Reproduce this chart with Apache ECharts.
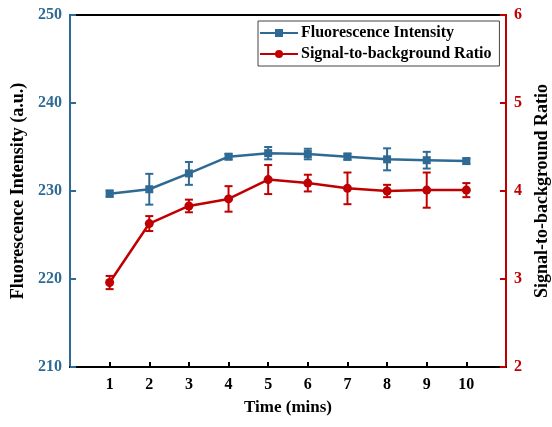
<!DOCTYPE html>
<html>
<head>
<meta charset="utf-8">
<script src="https://cdn.jsdelivr.net/npm/echarts@6/dist/echarts.min.js"></script>
<style>
  html, body { margin: 0; padding: 0; background: #fff; }
  #chart { width: 552px; height: 427px; }
</style>
</head>
<body>
<div id="chart"></div>
<script>
// 数据
const times = [1, 2, 3, 4, 5, 6, 7, 8, 9, 10];
const fluoValues = [229.7, 230.2, 232.0, 233.9, 234.3, 234.2, 233.9, 233.6, 233.5, 233.4];
const fluoErrors = [0.35, 1.75, 1.3, 0.3, 0.7, 0.6, 0.35, 1.25, 0.95, 0.3];
const sbrValues = [2.96, 3.63, 3.83, 3.91, 4.13, 4.09, 4.03, 4.0, 4.01, 4.01];
const sbrErrors = [0.075, 0.085, 0.072, 0.145, 0.165, 0.095, 0.18, 0.07, 0.2, 0.08];

const blue = "#2e6a94";
const red = "#c00000";
const font = "'Liberation Serif', 'Times New Roman', serif";

const chart = echarts.init(document.getElementById("chart"), null, { renderer: "canvas" });

// 误差棒：竖线 + 上下短横
function errorBarRenderer(color) {
  return function (params, api) {
    const x = api.value(0);
    const low = api.coord([x, api.value(1)]);
    const high = api.coord([x, api.value(2)]);
    const half = 4;
    const style = { stroke: color, lineWidth: 2 };
    return {
      type: "group",
      children: [
        { type: "line", shape: { x1: low[0], y1: low[1], x2: high[0], y2: high[1] }, style },
        { type: "line", shape: { x1: low[0] - half, y1: low[1], x2: low[0] + half, y2: low[1] }, style },
        { type: "line", shape: { x1: high[0] - half, y1: high[1], x2: high[0] + half, y2: high[1] }, style }
      ]
    };
  };
}

const fluoErrData = times.map((t, i) => [t, fluoValues[i] - fluoErrors[i], fluoValues[i] + fluoErrors[i]]);
const sbrErrData = times.map((t, i) => [t, sbrValues[i] - sbrErrors[i], sbrValues[i] + sbrErrors[i]]);

const option = {
  animation: false,
  textStyle: { fontFamily: font },
  grid: {
    left: 70,
    right: 46,
    top: 15,
    bottom: 60,
    outerBoundsMode: "none",
    containLabel: false,
    show: true,
    borderColor: "#000",
    borderWidth: 2
  },
  legend: {
    orient: "vertical",
    left: 258,
    top: 21,
    itemWidth: 38,
    itemHeight: 10,
    itemGap: 5,
    padding: [4, 8, 4, 1],
    borderColor: "#444",
    borderWidth: 1,
    textStyle: { fontFamily: font, fontSize: 16, fontWeight: "bold", color: "#000", padding: [0, 0, 0, -2] },
    data: ["Fluorescence Intensity", "Signal-to-background Ratio"]
  },
  xAxis: {
    type: "value",
    min: 0,
    max: 11,
    interval: 1,
    name: "Time (mins)",
    nameLocation: "middle",
    nameGap: 32,
    nameTextStyle: { fontFamily: font, fontSize: 17, fontWeight: "bold", color: "#000" },
    axisLine: { lineStyle: { color: "#000", width: 2 } },
    axisTick: { inside: true, length: 5, lineStyle: { color: "#000", width: 2 }, customValues: times },
    axisLabel: { customValues: times, margin: 10, fontFamily: font, fontSize: 16, fontWeight: "bold", color: "#000" },
    splitLine: { show: false }
  },
  yAxis: [
    {
      type: "value",
      min: 210,
      max: 250,
      interval: 10,
      position: "left",
      name: "Fluorescence Intensity (a.u.)",
      nameLocation: "middle",
      nameGap: 40,
      nameTextStyle: { fontFamily: font, fontSize: 18, fontWeight: "bold", color: "#000" },
      axisLine: { show: true, lineStyle: { color: blue, width: 2 } },
      axisTick: { show: true, inside: true, length: 6, lineStyle: { color: blue, width: 2 } },
      axisLabel: { margin: 8, fontFamily: font, fontSize: 16, fontWeight: "bold", color: blue },
      splitLine: { show: false }
    },
    {
      type: "value",
      min: 2,
      max: 6,
      interval: 1,
      position: "right",
      name: "Signal-to-background Ratio",
      nameLocation: "middle",
      nameGap: 26,
      nameRotate: 90,
      nameTextStyle: { fontFamily: font, fontSize: 18, fontWeight: "bold", color: "#000" },
      axisLine: { show: true, lineStyle: { color: red, width: 2 } },
      axisTick: { show: true, inside: true, length: 6, lineStyle: { color: red, width: 2 } },
      axisLabel: { margin: 8, fontFamily: font, fontSize: 16, fontWeight: "bold", color: red },
      splitLine: { show: false }
    }
  ],
  series: [
    {
      name: "Fluorescence Intensity",
      type: "line",
      yAxisIndex: 0,
      data: times.map((t, i) => [t, fluoValues[i]]),
      symbol: "rect",
      symbolSize: 8,
      lineStyle: { color: blue, width: 2.5 },
      itemStyle: { color: blue },
      z: 3
    },
    {
      name: "Signal-to-background Ratio",
      type: "line",
      yAxisIndex: 1,
      data: times.map((t, i) => [t, sbrValues[i]]),
      symbol: "circle",
      symbolSize: 9,
      lineStyle: { color: red, width: 2.5 },
      itemStyle: { color: red },
      z: 3
    },
    {
      type: "custom",
      yAxisIndex: 0,
      renderItem: errorBarRenderer(blue),
      encode: { x: 0, y: [1, 2] },
      data: fluoErrData,
      z: 2
    },
    {
      type: "custom",
      yAxisIndex: 1,
      renderItem: errorBarRenderer(red),
      encode: { x: 0, y: [1, 2] },
      data: sbrErrData,
      z: 2
    }
  ]
};

chart.setOption(option);
</script>
</body>
</html>
